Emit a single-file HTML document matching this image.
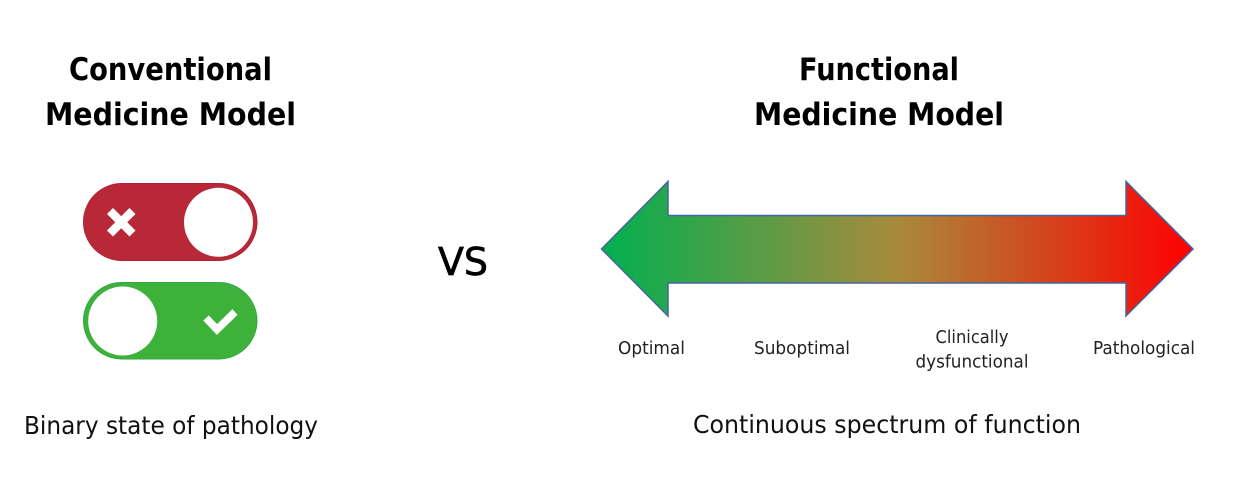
<!DOCTYPE html>
<html><head><meta charset="utf-8"><style>
html,body{margin:0;padding:0;background:#fff;width:1251px;height:495px;overflow:hidden}
svg{display:block}
text{font-family:"DejaVu Sans",sans-serif;fill:#000}
.t{font-size:31.500px;font-weight:bold}
.s{font-size:24.500px;fill:#111}
.l{font-size:17.500px;fill:#222}
</style></head><body>
<svg width="1251" height="495" viewBox="0 0 1251 495" xmlns="http://www.w3.org/2000/svg">
<defs><linearGradient id="g" x1="601" x2="1193" y1="0" y2="0" gradientUnits="userSpaceOnUse">
<stop offset="0" stop-color="#00b050"/><stop offset="0.5" stop-color="#a88a3c"/><stop offset="1" stop-color="#ff0000"/>
</linearGradient></defs>
<text class="t" x="69" y="80" textLength="203" lengthAdjust="spacingAndGlyphs">Conventional</text>
<text class="t" x="45" y="125" textLength="251" lengthAdjust="spacingAndGlyphs">Medicine Model</text>
<text class="t" x="799" y="80" textLength="160" lengthAdjust="spacingAndGlyphs">Functional</text>
<text class="t" x="754" y="125" textLength="250" lengthAdjust="spacingAndGlyphs">Medicine Model</text>
<rect x="83.500" y="183.500" width="173.500" height="77" rx="38.500" fill="#b82837" stroke="#ae2433" stroke-width="1"/>
<circle cx="218.500" cy="222.300" r="34.500" fill="#fff"/>
<path d="M110 211L132.500 233.500M132.500 211L110 233.500" stroke="#fff" stroke-width="8.500" fill="none"/>
<rect x="83.500" y="282.500" width="173.500" height="76.500" rx="38.250" fill="#3db139" stroke="#2ea84a" stroke-width="1"/>
<circle cx="122.700" cy="321" r="34.500" fill="#fff"/>
<path d="M206 318L217 329.500L235 312" stroke="#fff" stroke-width="7.500" fill="none"/>
<text x="438" y="275" textLength="50" lengthAdjust="spacingAndGlyphs" style="font-size:38px;stroke:#000;stroke-width:.7px">VS</text>
<polygon points="601.500,249 668,181.500 668,215.500 1126,215.500 1126,181.500 1193,249 1126,316 1126,283 668,283 668,316" fill="url(#g)" stroke="#44659f" stroke-width="1.500"/>
<text class="l" x="618" y="354" textLength="67" lengthAdjust="spacingAndGlyphs">Optimal</text>
<text class="l" x="754" y="354" textLength="96" lengthAdjust="spacingAndGlyphs">Suboptimal</text>
<text class="l" x="935.500" y="343" textLength="73" lengthAdjust="spacingAndGlyphs">Clinically</text>
<text class="l" x="915.500" y="367.500" textLength="113" lengthAdjust="spacingAndGlyphs">dysfunctional</text>
<text class="l" x="1093" y="354" textLength="102" lengthAdjust="spacingAndGlyphs">Pathological</text>
<text class="s" x="24" y="434" textLength="294" lengthAdjust="spacingAndGlyphs">Binary state of pathology</text>
<text class="s" x="693" y="433" textLength="388" lengthAdjust="spacingAndGlyphs">Continuous spectrum of function</text>
</svg>
</body></html>
